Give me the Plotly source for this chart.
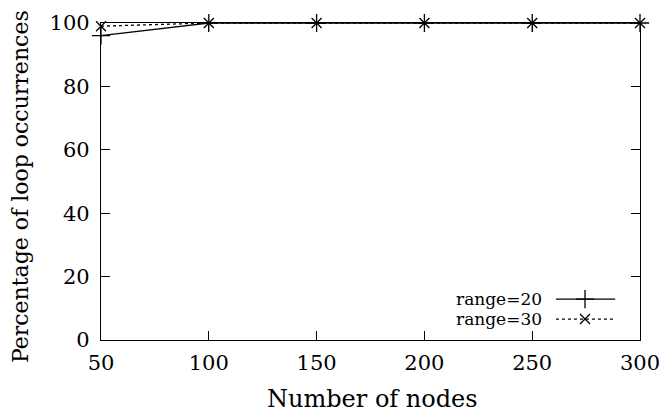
import plotly.graph_objects as go

nodes = [50, 100, 150, 200, 250, 300]
range20 = [96, 100, 100, 100, 100, 100]
range30 = [99, 100, 100, 100, 100, 100]
series_names = ["range=20", "range=30"]
y_ticks = [0, 20, 40, 60, 80, 100]
x_ticks = [50, 100, 150, 200, 250, 300]

FONT = "DejaVu Serif"
LW = 1.3
fig = go.Figure()
fig.add_trace(go.Scatter(x=nodes, y=range20, mode="lines+markers", name=series_names[0],
                         line=dict(color="black", width=LW),
                         marker=dict(symbol="cross-thin", size=13, line=dict(color="black", width=LW)),
                         cliponaxis=False, showlegend=False))
fig.add_trace(go.Scatter(x=nodes, y=range30, mode="lines+markers", name=series_names[1],
                         line=dict(color="black", width=LW, dash="3px,3px"),
                         marker=dict(symbol="x-thin", size=10, line=dict(color="black", width=LW)),
                         cliponaxis=False, showlegend=False))

# legend replica (gnuplot style: text left of sample)
leg_y = [0.129, 0.066]
styles = [dict(dash="solid", sym="cross-thin", size=13), dict(dash="3px,3px", sym="x-thin", size=10)]
for name, ly, st in zip(series_names, leg_y, styles):
    fig.add_annotation(x=0.822, y=ly, xref="paper", yref="paper", text=name, showarrow=False,
                       xanchor="right", yanchor="middle", font=dict(family=FONT, size=17, color="black"))
    fig.add_trace(go.Scatter(x=[0.844, 0.954], y=[ly, ly], xaxis="x2", yaxis="y2", mode="lines",
                             line=dict(color="black", width=LW, dash=st["dash"]), showlegend=False,
                             hoverinfo="skip"))
    fig.add_trace(go.Scatter(x=[0.898], y=[ly], xaxis="x2", yaxis="y2", mode="markers",
                             marker=dict(symbol=st["sym"], size=st["size"], line=dict(color="black", width=LW)),
                             showlegend=False, hoverinfo="skip"))

fig.add_annotation(x=0.503, y=-0.186, xref="paper", yref="paper", text="Number of nodes", showarrow=False,
                   xanchor="center", yanchor="middle", font=dict(family=FONT, size=24, color="black"))
fig.add_annotation(x=-0.148, y=0.483, xref="paper", yref="paper", text="Percentage of loop occurrences",
                   showarrow=False, textangle=-90, xanchor="center", yanchor="middle",
                   font=dict(family=FONT, size=22, color="black"))

axis_common = dict(showgrid=False, zeroline=False, showline=True, linecolor="black", linewidth=LW,
                   mirror="ticks", ticks="inside", ticklen=9, tickcolor="black", tickwidth=1,
                   automargin=False, tickfont=dict(family=FONT, size=21, color="black"))
fig.update_layout(
    width=663, height=417,
    margin=dict(l=101, r=23, t=23, b=77),
    paper_bgcolor="white", plot_bgcolor="white",
    xaxis=dict(range=[50, 300], tickvals=x_ticks, ticklabelstandoff=4, **axis_common),
    yaxis=dict(range=[0, 100], tickvals=y_ticks, ticklabelstandoff=6, **axis_common),
    xaxis2=dict(range=[0, 1], overlaying="x", visible=False),
    yaxis2=dict(range=[0, 1], overlaying="y", visible=False),
    showlegend=False,
)
fig.write_html("out.html", config={"displayModeBar": False},
               post_script="document.body.style.margin='0';document.body.style.overflow='hidden';")
